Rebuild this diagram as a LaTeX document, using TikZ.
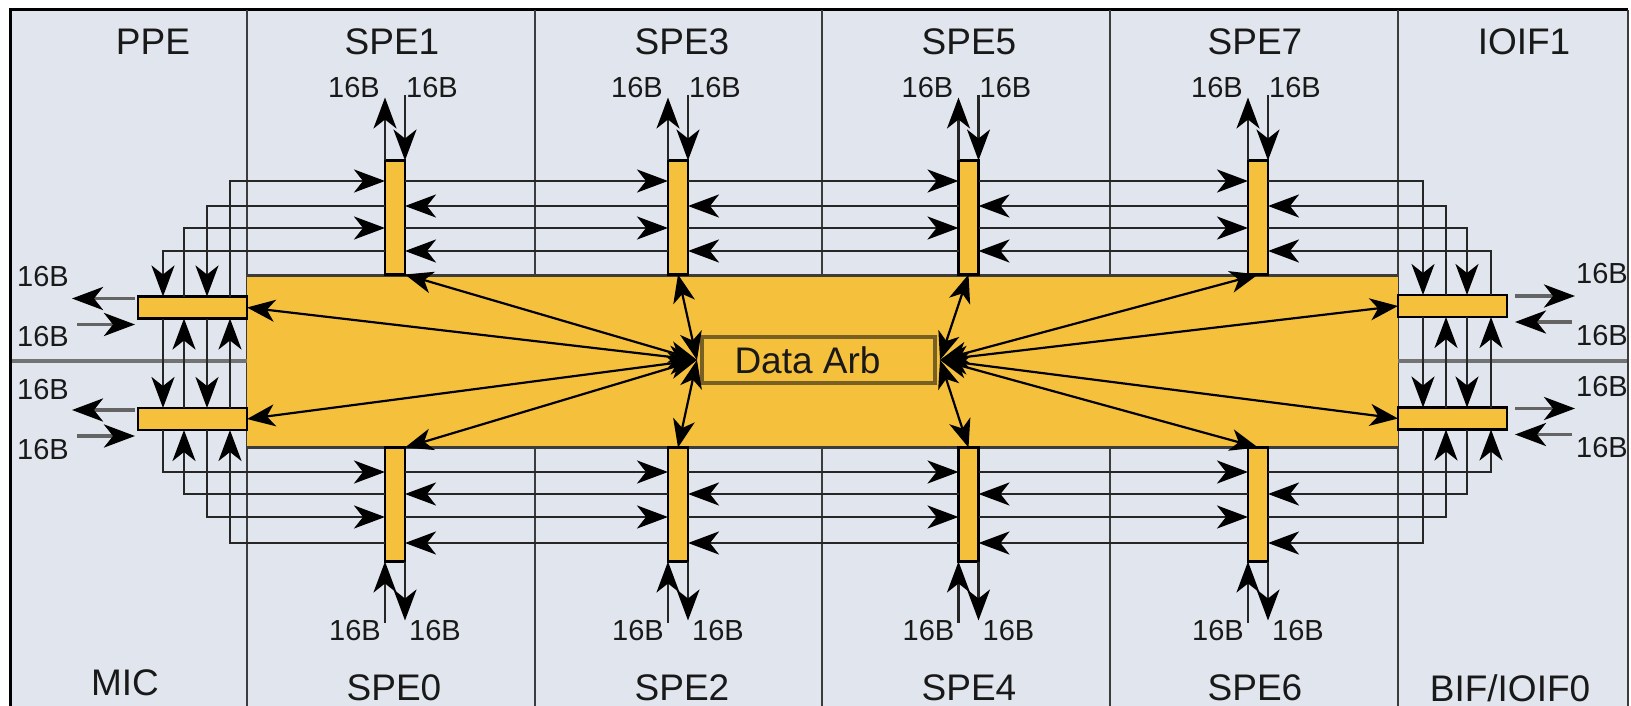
\documentclass[tikz,border=0pt]{standalone}
\usepackage{fontspec}
\setmainfont{Liberation Sans}
\usetikzlibrary{arrows.meta,calc}
\definecolor{bgc}{RGB}{225,229,238}
\definecolor{yel}{RGB}{245,192,60}
\definecolor{linec}{RGB}{38,38,38}
\definecolor{divc}{RGB}{60,60,60}
\definecolor{arbc}{RGB}{120,95,35}
\definecolor{midc}{RGB}{115,115,115}
\definecolor{extc}{RGB}{100,100,100}
\definecolor{txtc}{RGB}{25,25,25}
\tikzset{
  ring/.style={draw=linec, line width=2.8pt, -{Stealth[length=31pt,width=23pt,inset=9pt,black]}},
  portar/.style={draw=linec, line width=2.6pt, -{Stealth[length=31pt,width=23pt,inset=9pt,black]}},
  extar/.style={draw=extc, line width=3.8pt, -{Stealth[length=31pt,width=23pt,inset=9pt,black]}},
  arbar/.style={draw=black, line width=2.2pt, {Stealth[length=28pt,width=22pt,inset=8pt]}-{Stealth[length=28pt,width=22pt,inset=8pt]}},
  barbox/.style={draw=black, fill=yel, line width=2.2pt, minimum width=20pt, minimum height=114pt, inner sep=0pt, outer sep=0pt},
  portbox/.style={draw=black, fill=yel, line width=2.6pt, minimum width=109pt, minimum height=22pt, inner sep=0pt, outer sep=0pt},
  divider/.style={draw=divc, line width=2.6pt},
  coltitle/.style={font=\fontsize{37}{40}\selectfont, text=txtc, anchor=base, inner sep=0pt},
  lbl/.style={font=\fontsize{29}{32}\selectfont, text=txtc, inner sep=0pt},
}
\begin{document}
\begin{tikzpicture}[x=1pt,y=-1pt]
\useasboundingbox (0,0) rectangle (1631,706);
\fill[white] (0,0) rectangle (1631,706);
\fill[bgc] (10,10) rectangle (1628,706);
\draw[black, line width=3pt] (10,706) -- (10,10) -- (1628,10);
\draw[divc, line width=1.5pt] (1628,10) -- (1628,706);
\foreach \x in {247,535,822,1110,1398} \draw[divider] (\x,10) -- (\x,706);

% main bus box
\node[fill=yel, minimum width=1151pt, minimum height=172pt, inner sep=0pt, outer sep=0pt] (main) at (822.5,361) {};
\draw[divc, line width=3pt] (main.north west) -- (main.north east) (main.south west) -- (main.south east);
\draw[midc, line width=4pt] (11.5,361) -- (main.west);
\draw[midc, line width=4pt] (main.east) -- (1627,361);

% SPE bars
\foreach \n/\x in {t1/395,t3/678,t5/968.5,t7/1258} \node[barbox] (\n) at (\x,217.5) {};
\foreach \n/\x in {b0/395,b2/678,b4/968.5,b6/1258} \node[barbox] (\n) at (\x,504.5) {};

% port boxes
\node[portbox] (lu) at (192.5,307.5) {};
\node[portbox] (ll) at (192.5,419) {};
\node[portbox] (ru) at (1452.5,306) {};
\node[portbox] (rl) at (1452.5,418.5) {};

% ring levels
\coordinate (r1) at (0,181); \coordinate (r2) at (0,206);
\coordinate (r3) at (0,228); \coordinate (r4) at (0,251);
\coordinate (s1) at (0,472); \coordinate (s2) at (0,494);
\coordinate (s3) at (0,517); \coordinate (s4) at (0,543);
\coordinate (xa) at (163,0); \coordinate (xb) at (184,0);
\coordinate (xc) at (207,0); \coordinate (xd) at (230,0);
\coordinate (xA) at (1423,0); \coordinate (xB) at (1446,0);
\coordinate (xC) at (1467,0); \coordinate (xD) at (1491,0);

% top rings, rightward
\foreach \lev/\xl/\xr in {r1/xd/xA, r3/xb/xC} {
  \draw[ring] (\xl |- lu.north) -- (\xl |- \lev) -- (t1.west |- \lev);
  \foreach \p/\q in {t1/t3, t3/t5, t5/t7} \draw[ring] (\p.east |- \lev) -- (\q.west |- \lev);
  \draw[ring] (t7.east |- \lev) -- (\xr |- \lev) -- (\xr |- ru.north);
}
% top rings, leftward
\foreach \lev/\xr/\xl in {r2/xB/xc, r4/xD/xa} {
  \draw[ring] (\xr |- ru.north) -- (\xr |- \lev) -- (t7.east |- \lev);
  \foreach \p/\q in {t7/t5, t5/t3, t3/t1} \draw[ring] (\p.west |- \lev) -- (\q.east |- \lev);
  \draw[ring] (t1.west |- \lev) -- (\xl |- \lev) -- (\xl |- lu.north);
}
% bottom rings, rightward
\foreach \lev/\xl/\xr in {s1/xa/xD, s3/xc/xB} {
  \draw[ring] (\xl |- ll.south) -- (\xl |- \lev) -- (b0.west |- \lev);
  \foreach \p/\q in {b0/b2, b2/b4, b4/b6} \draw[ring] (\p.east |- \lev) -- (\q.west |- \lev);
  \draw[ring] (b6.east |- \lev) -- (\xr |- \lev) -- (\xr |- rl.south);
}
% bottom rings, leftward
\foreach \lev/\xr/\xl in {s2/xC/xb, s4/xA/xd} {
  \draw[ring] (\xr |- rl.south) -- (\xr |- \lev) -- (b6.east |- \lev);
  \foreach \p/\q in {b6/b4, b4/b2, b2/b0} \draw[ring] (\p.west |- \lev) -- (\q.east |- \lev);
  \draw[ring] (b0.west |- \lev) -- (\xl |- \lev) -- (\xl |- ll.south);
}
% between port boxes
\draw[ring] (xa |- lu.south) -- (xa |- ll.north);
\draw[ring] (xb |- ll.north) -- (xb |- lu.south);
\draw[ring] (xc |- lu.south) -- (xc |- ll.north);
\draw[ring] (xd |- ll.north) -- (xd |- lu.south);
\draw[ring] (xA |- ru.south) -- (xA |- rl.north);
\draw[ring] (xB |- rl.north) -- (xB |- ru.south);
\draw[ring] (xC |- ru.south) -- (xC |- rl.north);
\draw[ring] (xD |- rl.north) -- (xD |- ru.south);

% SPE external ports
\foreach \n in {t1,t3,t5,t7} {
  \draw[portar] (\n.north west) -- ++(0,-63);
  \draw[portar] ($(\n.north east)+(0,-65)$) -- (\n.north east);
  \node[lbl, anchor=east] (\n-la) at ($(\n.north west)+(-5,-73)$) {16B};
  \node[lbl, anchor=west] (\n-lb) at ($(\n.north east)+(1,-73)$) {16B};
}
\foreach \n in {b0,b2,b4,b6} {
  \draw[portar] ($(\n.south west)+(0,61)$) -- (\n.south west);
  \draw[portar] (\n.south east) -- ++(0,59);
  \node[lbl, anchor=east] (\n-la) at ($(\n.south west)+(-4,69)$) {16B};
  \node[lbl, anchor=west] (\n-lb) at ($(\n.south east)+(4,69)$) {16B};
}

% side external ports
\foreach \b in {lu,ll} {
  \draw[extar] ($(\b.north west)+(-3,2)$) -- ++(-63,0);
  \draw[extar] ($(\b.south west)+(-61,6)$) -- ($(\b.south west)+(-3,6)$);
}
\foreach \b in {ru,rl} {
  \draw[extar] ($(\b.north east)+(8,1)$) -- ++(60,0);
  \draw[extar] ($(\b.south east)+(65,5)$) -- ($(\b.south east)+(8,5)$);
}
\node[lbl] (l1) at (43,277) {16B};
\node[lbl] (l2) at (43,337) {16B};
\node[lbl] (l3) at (43,390) {16B};
\node[lbl] (l4) at (43,450) {16B};
\node[lbl] (r1l) at (1602,274) {16B};
\node[lbl] (r2l) at (1602,336) {16B};
\node[lbl] (r3l) at (1602,387) {16B};
\node[lbl] (r4l) at (1602,448) {16B};

% data arbiter
\node[draw=arbc, line width=4pt, fill=yel, minimum width=233pt, minimum height=46pt, inner sep=0pt, outer sep=0pt, font=\fontsize{37}{40}\selectfont, text=txtc] (arb) at (818.5,360) {Data Arb\hspace*{22pt}};
\coordinate (aL) at ($(arb.west)+(-5,0)$);
\coordinate (aR) at ($(arb.east)+(5,0)$);
\foreach \tg in {t1.south east, b0.north east, t3.south, b2.north, lu.east, ll.east} \draw[arbar] (aL) -- (\tg);
\foreach \tg in {t5.south, b4.north, t7.south, b6.north, ru.west, rl.west} \draw[arbar] (aR) -- (\tg);

% titles
\node[coltitle] (tPPE) at (153,55) {PPE};
\node[coltitle] (tS1) at (392,55) {SPE1};
\node[coltitle] (tS3) at (682,55) {SPE3};
\node[coltitle] (tS5) at (969,55) {SPE5};
\node[coltitle] (tS7) at (1255,55) {SPE7};
\node[coltitle] (tIO1) at (1524,55) {IOIF1};
\node[coltitle] (tMIC) at (125,695) {MIC};
\node[coltitle] (tS0) at (394,700) {SPE0};
\node[coltitle] (tS2) at (682,700) {SPE2};
\node[coltitle] (tS4) at (969,700) {SPE4};
\node[coltitle] (tS6) at (1255,700) {SPE6};
\node[coltitle] (tBIF) at (1510,701) {BIF/IOIF0};
\end{tikzpicture}
\end{document}
